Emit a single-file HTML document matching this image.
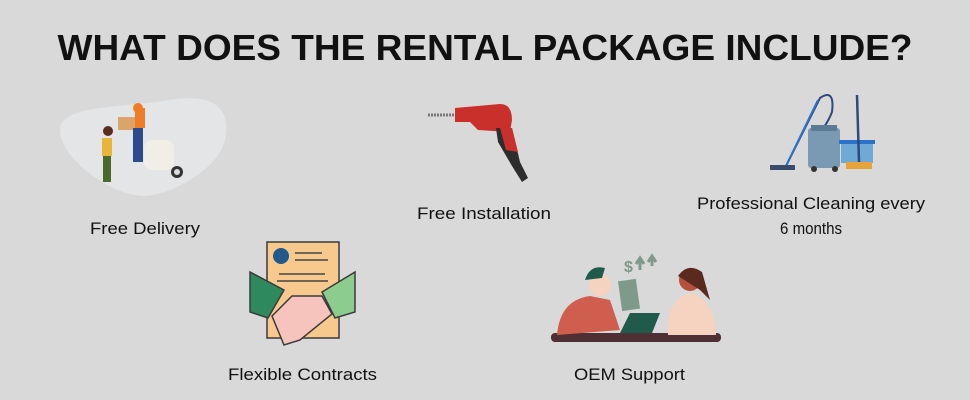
<!DOCTYPE html>
<html><head><meta charset="utf-8"><style>
html,body{margin:0;padding:0;background:#d9d9d9;}
svg{display:block}
text{font-family:"Liberation Sans",sans-serif;fill:#111;}
</style></head><body>
<svg width="970" height="400" viewBox="0 0 970 400" xmlns="http://www.w3.org/2000/svg">
<rect width="970" height="400" fill="#d9d9d9"/>
<text x="485" y="60" text-anchor="middle" font-size="36" font-weight="bold" textLength="855" lengthAdjust="spacingAndGlyphs" fill="#000">WHAT DOES THE RENTAL PACKAGE INCLUDE?</text>

<!-- Free delivery -->
<path d="M60 130 C60 105 120 108 170 100 C215 92 232 110 225 140 C218 170 170 195 145 196 C115 197 60 160 60 130Z" fill="#e3e5e6"/>
<rect x="144" y="140" width="30" height="30" rx="8" fill="#f0eee6"/>
<circle cx="177" cy="172" r="6" fill="#333"/><circle cx="177" cy="172" r="3" fill="#ddd"/>
<rect x="118" y="117" width="18" height="13" fill="#d9a56a"/>
<rect x="135" y="108" width="10" height="20" fill="#ef7d28"/>
<circle cx="138" cy="108" r="5" fill="#ef7d28"/>
<rect x="133" y="128" width="10" height="34" fill="#2b4b8a"/>
<rect x="102" y="138" width="10" height="18" fill="#e7b53a"/>
<circle cx="108" cy="131" r="5" fill="#5a2d1d"/>
<rect x="103" y="156" width="8" height="26" fill="#4a6a2a"/>

<!-- drill -->
<line x1="428" y1="115" x2="455" y2="115" stroke="#777" stroke-width="3" stroke-dasharray="2 1"/>
<path d="M455 108 L500 104 Q512 104 512 120 L510 132 L478 130 L470 122 L455 122Z" fill="#c9302c"/>
<path d="M496 128 L512 128 L520 162 L528 178 L522 182 L512 166 L498 142Z" fill="#2d2d2d"/>
<path d="M500 128 L512 128 L518 152 L506 150Z" fill="#c9302c"/>

<!-- cleaning -->
<path d="M785 168 L820 98 Q835 88 832 112 Q825 130 810 142" fill="none" stroke="#2d4a7a" stroke-width="2"/>
<line x1="785" y1="168" x2="818" y2="100" stroke="#2a73c9" stroke-width="2"/>
<rect x="770" y="165" width="25" height="5" fill="#3a4a6a"/>
<rect x="808" y="128" width="32" height="40" rx="3" fill="#7a9ab4"/>
<rect x="811" y="125" width="26" height="6" fill="#5a7a96"/>
<circle cx="814" cy="169" r="3" fill="#333"/><circle cx="835" cy="169" r="3" fill="#333"/>
<rect x="841" y="141" width="32" height="22" fill="#6ea9d8"/>
<rect x="839" y="140" width="36" height="4" fill="#2a73c9"/>
<line x1="857" y1="95" x2="859" y2="162" stroke="#2d4a7a" stroke-width="2.5"/>
<rect x="846" y="162" width="26" height="7" fill="#e8a23a"/>

<!-- contract -->
<rect x="267" y="242" width="72" height="96" fill="#f8c98c" stroke="#3a3a3a" stroke-width="1.5"/>
<circle cx="281" cy="256" r="8" fill="#1f5a8a"/>
<line x1="295" y1="253" x2="322" y2="253" stroke="#444" stroke-width="1.5"/>
<line x1="295" y1="260" x2="328" y2="260" stroke="#444" stroke-width="1.5"/>
<line x1="279" y1="274" x2="325" y2="274" stroke="#444" stroke-width="1.5"/>
<line x1="277" y1="281" x2="328" y2="281" stroke="#444" stroke-width="1.5"/>
<path d="M250 272 L284 290 L268 318 L250 312Z" fill="#2e8a5e" stroke="#3a3a3a" stroke-width="1.5"/>
<path d="M355 272 L322 292 L335 318 L355 312Z" fill="#8ccc8e" stroke="#3a3a3a" stroke-width="1.5"/>
<path d="M272 316 L292 296 L322 296 L332 314 L300 340 L284 345 Z" fill="#f6c4bc" stroke="#3a3a3a" stroke-width="1.5"/>

<!-- OEM -->
<rect x="551" y="333" width="170" height="9" rx="4" fill="#4e2f35"/>
<path d="M557 335 Q560 300 590 296 L610 300 L620 330 Z" fill="#cf5e4f"/>
<circle cx="600" cy="285" r="11" fill="#f6d3c0"/>
<path d="M585 280 Q590 264 605 268 L602 278 Z" fill="#1f5a4a"/>
<path d="M620 333 L630 313 L660 313 L652 333Z" fill="#1f5a4a"/>
<rect x="620" y="280" width="18" height="30" fill="#7e9a8a" transform="rotate(-8 629 295)"/>
<path d="M668 335 Q665 300 690 293 Q715 300 716 335Z" fill="#f6d3c0"/>
<circle cx="690" cy="280" r="11" fill="#b5503a"/>
<path d="M678 276 Q688 262 702 272 L710 300 L700 290Z" fill="#5a2a1e"/>
<text x="624" y="272" font-size="16" font-weight="bold" style="fill:#7e9a8a">$</text>
<path d="M636 264 L640 258 L644 264 M640 258 L640 270 M648 262 L652 256 L656 262 M652 256 L652 266" stroke="#7e9a8a" stroke-width="3" fill="none"/>

<text x="90" y="234" font-size="17" textLength="110" lengthAdjust="spacingAndGlyphs">Free Delivery</text>
<text x="417" y="219" font-size="17" textLength="134" lengthAdjust="spacingAndGlyphs">Free Installation</text>
<text x="697" y="209" font-size="17" textLength="228" lengthAdjust="spacingAndGlyphs">Professional Cleaning every</text>
<text x="780" y="234" font-size="17" textLength="62" lengthAdjust="spacingAndGlyphs">6 months</text>
<text x="228" y="380" font-size="17" textLength="149" lengthAdjust="spacingAndGlyphs">Flexible Contracts</text>
<text x="574" y="380" font-size="17" textLength="111" lengthAdjust="spacingAndGlyphs">OEM Support</text>
</svg>
</body></html>
